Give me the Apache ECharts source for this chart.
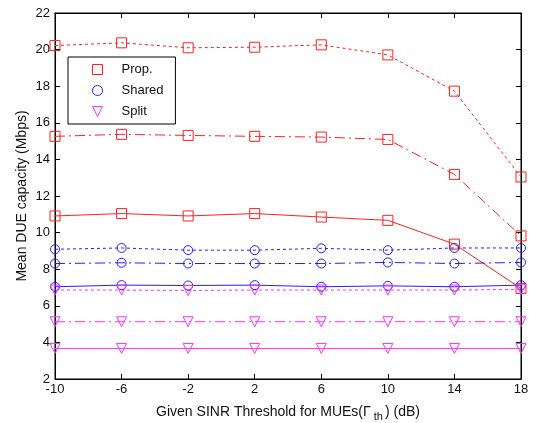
<!DOCTYPE html>
<html><head><meta charset="utf-8">
<script src="https://cdn.jsdelivr.net/npm/echarts@6/dist/echarts.min.js"></script>
<style>html,body{margin:0;padding:0;background:#fff}#c{width:534px;height:423px}</style>
</head><body><div id="c"></div>
<script>
const xValues = [-10, -6, -2, 2, 6, 10, 14, 18];
const propDotted  = [20.22, 20.37, 20.10, 20.13, 20.26, 19.71, 17.73, 13.04];
const propDashDot = [15.26, 15.37, 15.31, 15.26, 15.22, 15.09, 13.18, 9.82];
const propSolid   = [10.91, 11.04, 10.91, 11.04, 10.85, 10.67, 9.37, 6.95];
const sharedDotted  = [9.09, 9.16, 9.04, 9.04, 9.14, 9.04, 9.16, 9.16];
const sharedDashDot = [8.31, 8.35, 8.31, 8.31, 8.31, 8.37, 8.31, 8.37];
const sharedSolid   = [7.04, 7.13, 7.11, 7.13, 7.04, 7.09, 7.04, 7.13];
const splitDotted  = [6.86, 6.86, 6.84, 6.86, 6.86, 6.86, 6.86, 6.90];
const splitDashDot = [5.13, 5.13, 5.13, 5.13, 5.13, 5.13, 5.13, 5.13];
const splitSolid   = [3.67, 3.67, 3.67, 3.67, 3.67, 3.67, 3.67, 3.67];
const legendNames = ['Prop.', 'Shared', 'Split'];
const yTicks = {min: 2, max: 22, interval: 2};

const RED = '#ff2020', BLUE = '#2020ff', MAG = '#ff30ff';
const DOT = [3, 3], DASHDOT = [10, 4, 2, 4];
const TRI = 'path://M0,0 L10,0 L5,10 Z';
function mk(name, data, color, type, symbol, size) {
  return {
    name: name, type: 'line', data: xValues.map((x, i) => [x, data[i]]),
    symbol: symbol, symbolSize: size, showSymbol: true,
    lineStyle: {color: color, width: 1, type: type},
    itemStyle: {color: 'rgba(0,0,0,0)', borderColor: color, borderWidth: 1},
    emphasis: {disabled: true}, animation: false, z: 3
  };
}
const font = 'Liberation Sans, Arial, sans-serif';
const axisCommon = {
  axisLine: {show: true, onZero: false, lineStyle: {color: '#000'}},
  axisTick: {show: true, inside: true, length: 5, lineStyle: {color: '#000'}},
  splitLine: {show: false},
  nameMoveOverlap: false
};
const chart = echarts.init(document.getElementById('c'), null, {renderer: 'canvas'});
chart.setOption({
  animation: false,
  backgroundColor: '#fff',
  grid: {left: 55, right: 13, top: 13, bottom: 44, show: true, borderColor: '#000', borderWidth: 1,
         backgroundColor: 'transparent', containLabel: false, outerBoundsMode: 'none'},
  legend: {
    orient: 'vertical', left: 68, top: 57,
    backgroundColor: '#fff', borderColor: '#000', borderWidth: 1,
    padding: [6, 12, 6, 24], itemGap: 8, itemWidth: 10, itemHeight: 10,
    textStyle: {fontFamily: font, fontSize: 13, color: '#111', padding: [0, 0, 0, 14]},
    data: [
      {name: legendNames[0], icon: 'rect', itemStyle: {color: 'rgba(0,0,0,0)', borderColor: RED, borderWidth: 1}},
      {name: legendNames[1], icon: 'circle', itemStyle: {color: 'rgba(0,0,0,0)', borderColor: BLUE, borderWidth: 1}},
      {name: legendNames[2], icon: TRI, itemStyle: {color: 'rgba(0,0,0,0)', borderColor: MAG, borderWidth: 1}}
    ]
  },
  xAxis: [Object.assign({
    type: 'value', min: -10, max: 18, interval: 4,
    axisLabel: {fontFamily: font, fontSize: 13, color: '#111', margin: 4},
    name: 'Given SINR Threshold for MUEs(Γ{sub|th}) (dB)',
    nameLocation: 'middle', nameGap: 23,
    nameTextStyle: {fontFamily: font, fontSize: 14, color: '#111', verticalAlign: 'top',
      rich: {sub: {fontFamily: font, fontSize: 11, color: '#111', padding: [9, 2, 0, 3]}}}
  }, axisCommon), Object.assign({
    type: 'value', min: -10, max: 18, interval: 4, position: 'top',
    axisLabel: {show: false}
  }, axisCommon)],
  yAxis: [Object.assign({
    type: 'value', min: yTicks.min, max: yTicks.max, interval: yTicks.interval,
    axisLabel: {fontFamily: font, fontSize: 13, color: '#111', margin: 5},
    name: 'Mean DUE capacity (Mbps)', nameLocation: 'middle', nameGap: 26,
    nameTextStyle: {fontFamily: font, fontSize: 14, color: '#111'}
  }, axisCommon), Object.assign({
    type: 'value', min: yTicks.min, max: yTicks.max, interval: yTicks.interval, position: 'right',
    axisLabel: {show: false}
  }, axisCommon)],
  series: [
    mk('Prop.', propDotted, RED, DOT, 'rect', 10),
    mk('Prop.', propDashDot, RED, DASHDOT, 'rect', 10),
    mk('Prop.', propSolid, RED, 'solid', 'rect', 10),
    mk('Shared', sharedDotted, BLUE, DOT, 'circle', 9),
    mk('Shared', sharedDashDot, BLUE, DASHDOT, 'circle', 9),
    mk('Shared', sharedSolid, BLUE, 'solid', 'circle', 9),
    mk('Split', splitDotted, MAG, DOT, TRI, 10),
    mk('Split', splitDashDot, MAG, DASHDOT, TRI, 10),
    mk('Split', splitSolid, MAG, 'solid', TRI, 10)
  ]
});
</script></body></html>
